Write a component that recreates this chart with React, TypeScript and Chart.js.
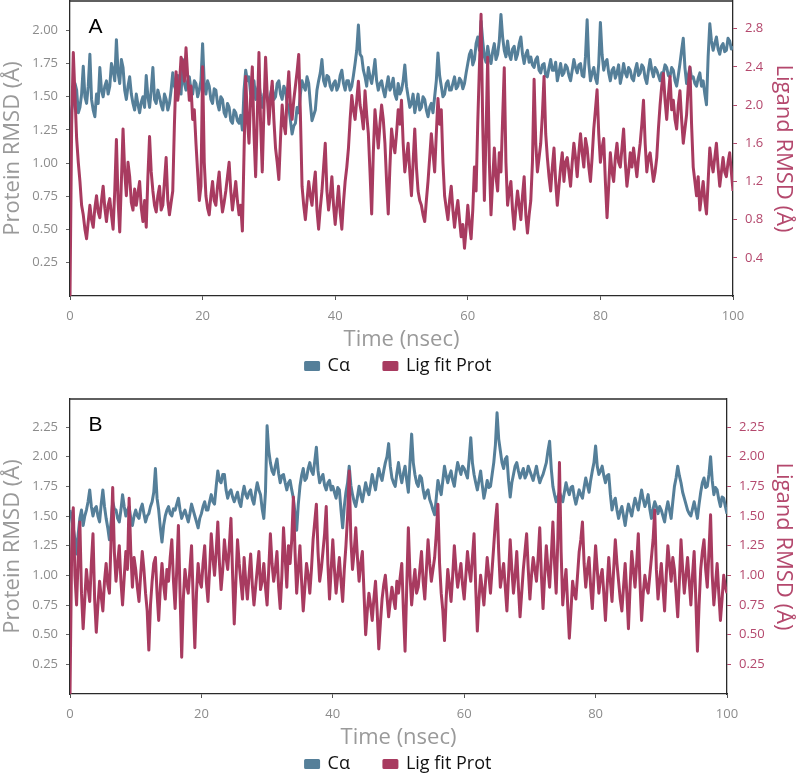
import React, { useEffect, useRef } from 'react';
import { Chart, registerables } from 'chart.js';

Chart.register(...registerables);

// ---------------- data ----------------
const TIME_STEP_NS = 0.25; // sampling interval of every series below (ns)

const X_TICKS = [0, 20, 40, 60, 80, 100];
const A_LEFT_TICKS = [0.25, 0.5, 0.75, 1.0, 1.25, 1.5, 1.75, 2.0];
const A_RIGHT_TICKS = [0.4, 0.8, 1.2, 1.6, 2.0, 2.4, 2.8];
const B_TICKS = [0.25, 0.5, 0.75, 1.0, 1.25, 1.5, 1.75, 2.0, 2.25];
const A_LEFT_MAX = 2.221;
const A_RIGHT_MAX = 3.09;
const B_MAX = 2.486;

const A_CA = [
  1.15, 1.40, 1.48, 1.60, 1.55, 1.38, 1.42, 1.52, 1.73, 1.50, 1.45, 1.58, 1.82, 1.48, 1.40, 1.35, 1.52, 1.45, 1.72, 1.55,
  1.50, 1.58, 1.62, 1.52, 1.58, 1.75, 1.70, 1.62, 1.93, 1.68, 1.60, 1.78, 1.72, 1.55, 1.48, 1.58, 1.65, 1.52, 1.45, 1.40,
  1.52, 1.44, 1.38, 1.46, 1.50, 1.42, 1.66, 1.50, 1.42, 1.55, 1.72, 1.48, 1.45, 1.55, 1.50, 1.44, 1.40, 1.52, 1.48, 1.40,
  1.45, 1.55, 1.68, 1.58, 1.55, 1.66, 1.62, 1.52, 1.78, 1.60, 1.55, 1.62, 1.65, 1.55, 1.52, 1.62, 1.60, 1.50, 1.55, 1.62,
  1.90, 1.60, 1.52, 1.62, 1.58, 1.48, 1.45, 1.56, 1.55, 1.45, 1.40, 1.50, 1.48, 1.38, 1.35, 1.45, 1.42, 1.32, 1.30, 1.40,
  1.38, 1.32, 1.30, 1.36, 1.25, 1.55, 1.70, 1.62, 1.65, 1.52, 1.55, 1.62, 1.48, 1.55, 1.60, 1.50, 1.42, 1.52, 1.55, 1.48,
  1.45, 1.52, 1.58, 1.48, 1.50, 1.60, 1.62, 1.52, 1.48, 1.58, 1.55, 1.45, 1.42, 1.32, 1.22, 1.28, 1.30, 1.42, 1.38, 1.52,
  1.62, 1.58, 1.55, 1.65, 1.60, 1.45, 1.32, 1.36, 1.40, 1.55, 1.62, 1.68, 1.78, 1.62, 1.58, 1.66, 1.65, 1.58, 1.55, 1.60,
  1.62, 1.55, 1.58, 1.66, 1.70, 1.60, 1.55, 1.62, 1.62, 1.55, 1.58, 1.66, 1.75, 1.85, 2.04, 1.82, 1.80, 1.70, 1.65, 1.58,
  1.72, 1.65, 1.60, 1.68, 1.78, 1.62, 1.55, 1.60, 1.62, 1.55, 1.50, 1.58, 1.65, 1.55, 1.58, 1.64, 1.52, 1.48, 1.60, 1.52,
  1.55, 1.62, 1.74, 1.58, 1.50, 1.42, 1.45, 1.52, 1.38, 1.45, 1.52, 1.40, 1.42, 1.50, 1.48, 1.40, 1.35, 1.42, 1.45, 1.38,
  1.50, 1.62, 1.83, 1.66, 1.58, 1.50, 1.52, 1.60, 1.62, 1.55, 1.55, 1.60, 1.65, 1.56, 1.58, 1.64, 1.62, 1.56, 1.60, 1.68,
  1.75, 1.82, 1.85, 1.74, 1.78, 1.90, 1.95, 1.85, 2.07, 1.92, 1.80, 1.76, 1.88, 1.80, 1.75, 1.84, 1.90, 1.78, 1.82, 1.92,
  2.12, 1.95, 1.85, 1.80, 1.92, 1.82, 1.78, 1.86, 1.88, 1.78, 1.82, 1.90, 1.95, 1.82, 1.75, 1.82, 1.85, 1.76, 1.80, 1.74,
  1.72, 1.78, 1.80, 1.70, 1.68, 1.74, 1.75, 1.66, 1.65, 1.72, 1.78, 1.70, 1.70, 1.76, 1.62, 1.68, 1.75, 1.66, 1.68, 1.74,
  1.72, 1.66, 1.62, 1.70, 1.78, 1.72, 1.68, 1.74, 1.75, 1.66, 1.65, 1.80, 2.08, 1.75, 1.62, 1.68, 1.72, 1.64, 1.60, 1.75,
  2.06, 1.82, 1.70, 1.76, 1.78, 1.68, 1.62, 1.70, 1.72, 1.64, 1.68, 1.74, 1.60, 1.66, 1.75, 1.68, 1.65, 1.72, 1.70, 1.64,
  1.62, 1.70, 1.75, 1.66, 1.68, 1.74, 1.72, 1.64, 1.60, 1.70, 1.78, 1.70, 1.65, 1.72, 1.70, 1.66, 1.62, 1.68, 1.68, 1.74,
  1.72, 1.66, 1.65, 1.72, 1.70, 1.62, 1.58, 1.66, 1.75, 1.85, 1.94, 1.72, 1.60, 1.66, 1.72, 1.64, 1.65, 1.60, 1.58, 1.64,
  1.68, 1.58, 1.62, 1.52, 1.44, 1.80, 2.05, 1.92, 1.85, 1.90, 1.95, 1.86, 1.82, 1.88, 1.90, 1.84, 1.85, 1.94, 1.92, 1.86,
  1.88,
];

const A_LIG = [
  0.00, 1.80, 2.55, 2.10, 1.65, 1.40, 1.20, 0.95, 0.85, 0.70, 0.60, 0.78, 0.95, 0.80, 0.72, 0.92, 1.05, 0.88, 0.82, 1.00,
  1.15, 0.92, 0.78, 0.95, 1.02, 0.85, 0.70, 1.10, 1.64, 1.00, 0.67, 1.20, 1.75, 1.30, 1.05, 1.40, 1.25, 0.98, 0.90, 1.12,
  0.95, 1.08, 1.20, 0.92, 0.78, 1.00, 0.72, 1.25, 1.67, 1.30, 1.10, 0.95, 0.88, 1.05, 1.15, 0.90, 0.95, 1.20, 1.45, 1.00,
  0.85, 0.98, 1.10, 1.80, 2.35, 2.05, 2.20, 2.50, 2.45, 2.25, 2.60, 2.30, 2.05, 2.20, 1.85, 1.95, 1.60, 1.30, 1.00, 1.15,
  2.40, 1.40, 1.05, 0.92, 0.85, 1.05, 1.20, 1.00, 0.95, 1.15, 1.30, 1.05, 0.88, 0.98, 1.10, 1.25, 1.40, 1.10, 0.90, 1.05,
  1.20, 1.00, 0.85, 0.95, 0.68, 1.50, 2.30, 1.85, 1.60, 2.10, 2.40, 1.70, 1.25, 1.90, 2.55, 1.80, 1.30, 1.95, 2.50, 2.10,
  1.80, 2.05, 2.25, 1.85, 1.55, 1.40, 1.22, 1.65, 2.00, 1.80, 1.70, 2.10, 2.35, 2.00, 1.85, 2.05, 2.20, 2.35, 2.53, 1.90,
  1.15, 0.95, 0.80, 1.00, 1.20, 1.05, 0.95, 1.15, 1.30, 0.90, 0.70, 0.92, 1.10, 1.35, 1.60, 1.10, 0.90, 1.05, 1.25, 0.95,
  0.75, 0.95, 1.15, 0.88, 0.70, 0.98, 1.20, 1.35, 1.55, 1.85, 2.10, 1.95, 1.85, 2.05, 2.25, 2.00, 1.90, 1.75, 2.15, 1.90,
  1.70, 1.30, 0.86, 1.50, 1.95, 1.75, 1.55, 1.80, 2.00, 1.85, 1.60, 1.20, 0.86, 1.35, 1.75, 1.60, 1.50, 1.70, 1.95, 1.80,
  2.05, 1.60, 1.30, 1.45, 1.60, 1.30, 1.05, 1.40, 1.75, 1.35, 1.10, 1.00, 0.95, 0.85, 0.78, 1.00, 1.20, 1.45, 1.70, 1.50,
  1.30, 1.70, 2.07, 1.80, 1.95, 1.40, 1.05, 0.92, 0.80, 1.00, 1.15, 0.90, 0.72, 0.88, 1.00, 0.80, 0.62, 0.75, 0.50, 0.70,
  0.95, 0.75, 0.60, 0.90, 1.35, 1.10, 1.81, 2.40, 2.95, 1.80, 1.00, 1.70, 2.50, 1.40, 0.85, 1.20, 1.55, 1.25, 1.10, 1.50,
  1.30, 1.85, 2.39, 1.40, 0.95, 1.10, 1.20, 0.90, 0.70, 0.92, 1.10, 0.95, 0.80, 1.05, 1.25, 0.85, 0.66, 0.85, 1.00, 1.40,
  2.27, 1.60, 1.30, 1.45, 1.60, 1.90, 2.30, 1.70, 1.45, 1.25, 1.10, 1.35, 1.55, 1.20, 0.95, 1.15, 1.35, 1.50, 1.20, 1.40,
  1.45, 1.30, 1.15, 1.40, 1.60, 1.45, 1.25, 1.50, 1.70, 1.50, 1.35, 1.65, 1.55, 1.35, 1.20, 1.45, 1.75, 1.95, 2.16, 1.70,
  1.40, 1.55, 1.65, 1.20, 0.82, 1.15, 1.50, 1.30, 1.20, 1.45, 1.60, 1.40, 1.35, 1.55, 1.75, 1.40, 1.15, 1.30, 1.50, 1.35,
  1.55, 1.40, 1.25, 1.45, 1.60, 1.80, 2.05, 1.60, 1.30, 1.45, 1.50, 1.35, 1.20, 1.30, 1.45, 1.75, 2.00, 2.20, 2.33, 2.05,
  1.85, 2.10, 2.30, 1.95, 2.05, 1.85, 1.75, 2.00, 2.15, 1.85, 1.60, 1.75, 1.90, 2.20, 2.40, 1.80, 1.35, 1.20, 1.05, 1.25,
  0.90, 1.05, 1.20, 1.00, 0.86, 1.20, 1.55, 1.40, 1.30, 1.45, 1.60, 1.35, 1.15, 1.30, 1.45, 1.30, 1.25, 1.40, 1.50, 1.30,
  1.10,
];

const B_CA = [
  1.55, 1.48, 1.40, 1.30, 1.18, 1.35, 1.48, 1.55, 1.42, 1.50, 1.55, 1.62, 1.72, 1.58, 1.50, 1.56, 1.58, 1.50, 1.45, 1.60,
  1.72, 1.58, 1.48, 1.40, 1.30, 1.45, 1.62, 1.56, 1.55, 1.48, 1.45, 1.55, 1.68, 1.58, 1.50, 1.55, 1.58, 1.48, 1.42, 1.50,
  1.55, 1.50, 1.48, 1.56, 1.60, 1.52, 1.45, 1.50, 1.52, 1.58, 1.62, 1.70, 1.90, 1.65, 1.55, 1.40, 1.28, 1.42, 1.50, 1.55,
  1.58, 1.52, 1.50, 1.56, 1.55, 1.60, 1.65, 1.55, 1.48, 1.52, 1.55, 1.50, 1.45, 1.52, 1.60, 1.55, 1.50, 1.45, 1.40, 1.48,
  1.52, 1.58, 1.62, 1.55, 1.55, 1.62, 1.68, 1.62, 1.60, 1.75, 1.88, 1.80, 1.78, 1.85, 1.85, 1.72, 1.65, 1.70, 1.72, 1.66,
  1.62, 1.66, 1.70, 1.62, 1.58, 1.68, 1.75, 1.68, 1.65, 1.70, 1.72, 1.64, 1.60, 1.70, 1.78, 1.72, 1.68, 1.56, 1.48, 1.70,
  2.26, 2.05, 1.95, 1.88, 1.85, 1.92, 1.98, 1.86, 1.78, 1.84, 1.85, 1.78, 1.72, 1.78, 1.80, 1.72, 1.65, 1.52, 1.38, 1.60,
  1.75, 1.84, 1.90, 1.80, 1.82, 1.90, 1.95, 1.88, 1.85, 1.96, 2.08, 1.88, 1.78, 1.82, 1.85, 1.76, 1.72, 1.78, 1.80, 1.72,
  1.75, 1.70, 1.65, 1.74, 1.72, 1.55, 1.40, 1.58, 1.70, 1.78, 1.92, 1.76, 1.68, 1.62, 1.58, 1.66, 1.75, 1.68, 1.62, 1.70,
  1.78, 1.72, 1.68, 1.76, 1.85, 1.78, 1.72, 1.82, 1.90, 1.84, 1.80, 1.88, 1.95, 2.00, 2.11, 1.92, 1.82, 1.78, 1.75, 1.86,
  1.95, 1.85, 1.78, 1.86, 1.92, 1.80, 1.70, 1.95, 2.19, 1.95, 1.85, 1.78, 1.75, 1.84, 1.82, 1.72, 1.65, 1.70, 1.72, 1.64,
  1.60, 1.55, 1.51, 1.65, 1.80, 1.74, 1.68, 1.80, 1.92, 1.84, 1.78, 1.84, 1.88, 1.80, 1.75, 1.86, 1.95, 1.90, 1.85, 1.92,
  1.90, 1.86, 1.82, 1.98, 2.16, 1.95, 1.85, 1.78, 1.72, 1.80, 1.88, 1.76, 1.65, 1.72, 1.80, 1.74, 1.75, 1.85, 1.95, 2.10,
  2.37, 2.15, 2.05, 1.95, 1.90, 1.98, 2.00, 1.80, 1.66, 1.78, 1.85, 1.92, 1.95, 1.88, 1.82, 1.86, 1.90, 1.82, 1.85, 1.92,
  1.88, 1.84, 1.80, 1.86, 1.92, 1.84, 1.78, 1.82, 1.85, 1.90, 1.95, 2.05, 2.13, 1.90, 1.75, 1.68, 1.62, 1.66, 1.70, 1.66,
  1.62, 1.70, 1.78, 1.72, 1.68, 1.74, 1.75, 1.66, 1.60, 1.66, 1.72, 1.68, 1.65, 1.74, 1.82, 1.76, 1.70, 1.80, 1.88, 1.95,
  2.09, 1.92, 1.85, 1.88, 1.92, 1.84, 1.78, 1.84, 1.85, 1.68, 1.55, 1.62, 1.65, 1.55, 1.48, 1.54, 1.58, 1.50, 1.42, 1.52,
  1.60, 1.55, 1.50, 1.58, 1.65, 1.60, 1.55, 1.64, 1.72, 1.64, 1.58, 1.62, 1.68, 1.56, 1.48, 1.56, 1.62, 1.58, 1.52, 1.58,
  1.55, 1.50, 1.45, 1.55, 1.62, 1.55, 1.48, 1.62, 1.75, 1.82, 1.92, 1.84, 1.78, 1.70, 1.65, 1.60, 1.55, 1.52, 1.50, 1.56,
  1.62, 1.55, 1.48, 1.60, 1.70, 1.78, 1.82, 1.74, 1.75, 1.85, 2.00, 1.80, 1.68, 1.74, 1.72, 1.64, 1.58, 1.66, 1.65, 1.58,
  1.52,
];

const B_LIG = [
  0.00, 1.20, 1.57, 1.00, 0.75, 1.15, 1.45, 0.85, 0.55, 0.80, 1.05, 0.90, 0.78, 1.10, 1.35, 0.80, 0.52, 0.75, 0.95, 0.82,
  0.70, 0.95, 1.10, 0.92, 0.85, 1.30, 1.74, 1.20, 0.95, 1.10, 1.25, 0.95, 0.75, 0.98, 1.20, 1.05, 1.65, 1.20, 0.90, 1.15,
  1.05, 0.90, 0.78, 1.00, 1.20, 1.05, 0.85, 0.70, 0.37, 0.75, 0.95, 1.10, 1.15, 0.85, 0.62, 0.90, 1.10, 0.92, 0.80, 1.05,
  0.95, 1.15, 1.30, 0.95, 0.72, 1.05, 1.42, 0.85, 0.31, 0.80, 1.05, 0.92, 0.85, 1.05, 1.25, 0.80, 0.39, 0.85, 1.10, 0.95,
  0.90, 1.10, 1.25, 0.95, 0.78, 1.05, 1.35, 1.15, 1.00, 1.20, 1.45, 1.10, 0.88, 1.05, 1.30, 1.15, 1.05, 1.25, 1.48, 1.00,
  0.59, 0.95, 1.30, 1.10, 0.95, 0.80, 1.15, 0.95, 0.80, 1.00, 1.18, 0.92, 0.75, 0.90, 1.05, 1.20, 0.88, 0.95, 1.10, 0.90,
  0.75, 1.05, 1.35, 1.10, 0.95, 1.05, 1.20, 0.90, 0.72, 1.00, 1.40, 1.15, 0.90, 1.25, 1.10, 1.30, 1.66, 1.20, 0.85, 1.05,
  1.25, 0.95, 0.70, 0.90, 1.10, 1.00, 0.85, 1.05, 1.30, 1.45, 1.60, 1.20, 0.95, 1.05, 1.20, 1.35, 1.58, 1.10, 0.80, 1.05,
  1.30, 1.05, 0.85, 1.00, 1.15, 0.95, 0.78, 1.05, 1.25, 1.50, 1.88, 1.30, 1.05, 1.20, 1.40, 1.15, 0.95, 1.10, 1.20, 0.85,
  0.50, 0.70, 0.85, 0.75, 0.62, 0.80, 0.95, 0.70, 0.38, 0.60, 0.80, 0.92, 1.00, 0.82, 0.65, 0.78, 0.90, 0.80, 0.72, 0.95,
  0.85, 0.98, 1.10, 0.70, 0.36, 0.90, 1.40, 1.00, 0.75, 0.92, 1.05, 0.85, 0.90, 1.05, 1.20, 0.95, 0.80, 1.05, 1.30, 1.10,
  0.95, 1.05, 1.15, 1.35, 1.60, 1.10, 0.85, 0.70, 0.45, 0.80, 1.05, 0.92, 0.78, 1.00, 1.25, 1.05, 0.90, 1.00, 1.10, 0.92,
  0.80, 1.00, 1.20, 1.05, 0.95, 1.15, 1.35, 0.90, 0.53, 0.80, 1.00, 0.88, 0.75, 0.95, 1.15, 1.00, 0.85, 1.05, 1.25, 1.45,
  1.60, 1.20, 0.90, 1.00, 1.10, 0.90, 0.70, 1.00, 1.30, 1.05, 0.85, 1.00, 1.20, 0.90, 0.65, 0.85, 1.05, 1.20, 1.35, 1.05,
  0.80, 1.00, 1.15, 1.05, 0.95, 1.15, 1.40, 1.00, 0.72, 1.00, 1.25, 1.05, 0.90, 1.15, 1.45, 1.10, 0.85, 1.30, 1.95, 1.20,
  0.75, 0.92, 1.05, 0.75, 0.47, 0.70, 0.95, 0.85, 0.80, 1.00, 1.20, 1.30, 1.45, 1.10, 0.90, 1.05, 1.15, 0.90, 0.72, 1.00,
  1.25, 1.05, 0.85, 0.98, 1.05, 0.85, 0.62, 0.90, 1.15, 0.95, 0.78, 1.05, 1.30, 1.10, 0.95, 0.80, 0.70, 0.90, 1.10, 0.85,
  0.55, 0.90, 1.20, 1.05, 0.90, 1.10, 1.35, 0.95, 0.62, 0.85, 1.00, 0.90, 0.85, 1.00, 1.15, 1.30, 1.55, 1.05, 0.80, 0.95,
  1.10, 0.90, 0.70, 1.00, 1.25, 1.10, 0.95, 1.15, 1.05, 0.85, 0.65, 0.95, 1.30, 1.05, 0.85, 1.00, 1.15, 0.95, 0.75, 1.00,
  1.20, 0.80, 0.36, 0.75, 1.05, 1.20, 1.30, 1.05, 0.90, 1.20, 1.51, 1.00, 0.75, 0.92, 1.10, 0.85, 0.62, 0.80, 1.00, 0.90,
  0.85,
];

// ---------------- styles ----------------
const BLUE = '#557f99';
const RED = '#a83b60';
const GRAY_TICK = '#8c8c8c';
const GRAY_TITLE = '#9a9a9a';
const RED_TICK = '#b4486d';
const AXIS_COLOR = '#2a2a2a';
const FONT = "'Open Sans', 'Noto Sans', sans-serif";
const LINE_WIDTH = 3;

const W = 797;
const H = 398;

const panelDecor = {
  id: 'panelDecor',
  afterDraw(chart: any, _args: any, opts: any) {
    const { ctx, chartArea } = chart;
    ctx.save();
    ctx.strokeStyle = AXIS_COLOR;
    ctx.lineWidth = 1.3;
    ctx.beginPath();
    ctx.moveTo(chartArea.left, chartArea.top);
    ctx.lineTo(chartArea.right, chartArea.top);
    ctx.stroke();
    ctx.fillStyle = '#000';
    ctx.font = "21px 'Liberation Sans', Arial, sans-serif";
    ctx.textAlign = 'center';
    ctx.textBaseline = 'middle';
    ctx.fillText(opts.label, chartArea.left + 25.5, chartArea.top + 26.5);
    ctx.restore();
  },
};

const toPoints = (arr: number[]) => arr.map((v, i) => ({ x: i * TIME_STEP_NS, y: v }));

type PanelProps = {
  top: number;
  label: string;
  ca: number[];
  lig: number[];
  leftTicks: number[];
  rightTicks: number[];
  leftMax: number;
  rightMax: number;
  leftDigits: number;
  rightDigits: number;
  rightWidth: number;
};

function Panel(p: PanelProps) {
  const ref = useRef<HTMLCanvasElement | null>(null);
  useEffect(() => {
    if (!ref.current) return;
    const chart = new Chart(ref.current, {
      type: 'line',
      data: {
        datasets: [
          {
            label: 'Cα',
            data: toPoints(p.ca),
            borderColor: BLUE,
            backgroundColor: BLUE,
            borderWidth: LINE_WIDTH,
            borderJoinStyle: 'round',
            pointRadius: 0,
            tension: 0,
            yAxisID: 'y',
            order: 1,
          },
          {
            label: 'Lig fit Prot',
            data: toPoints(p.lig),
            borderColor: RED,
            backgroundColor: RED,
            borderWidth: LINE_WIDTH,
            borderJoinStyle: 'round',
            pointRadius: 0,
            tension: 0,
            yAxisID: 'y2',
            order: 0,
          },
        ],
      },
      options: {
        animation: false,
        responsive: false,
        maintainAspectRatio: false,
        devicePixelRatio: 1,
        layout: { padding: { top: 1, bottom: 13, left: 0, right: 0 } },
        font: { family: FONT },
        plugins: {
          legend: {
            position: 'bottom',
            labels: {
              boxWidth: 13,
              boxHeight: 7,
              padding: 34,
              color: '#111',
              font: { size: 18, family: FONT },
              sort: (a: any, b: any) => a.datasetIndex - b.datasetIndex,
            },
          },
          tooltip: { enabled: false },
          panelDecor: { label: p.label },
        } as any,
        scales: {
          x: {
            type: 'linear',
            position: 'bottom',
            min: 0,
            max: 100,
            afterBuildTicks: (s: any) => {
              s.ticks = X_TICKS.map((v) => ({ value: v }));
            },
            afterFit: (s: any) => {
              s.height = 27;
              s.paddingLeft = 0;
              s.paddingRight = 0;
            },
            ticks: {
              color: GRAY_TICK,
              font: { size: 13, family: FONT },
              padding: 8,
              maxRotation: 0,
              autoSkip: false,
              callback: (v: any) => String(v),
            },
            grid: { drawOnChartArea: false, drawTicks: true, tickLength: 4, tickColor: '#555' },
            border: { display: true, color: AXIS_COLOR, width: 1.3 },
            title: {
              display: true,
              text: 'Time (nsec)',
              color: GRAY_TITLE,
              font: { size: 22, family: FONT },
              padding: { top: 0, bottom: -30 },
            },
          },
          y: {
            type: 'linear',
            position: 'left',
            min: 0,
            max: p.leftMax,
            afterBuildTicks: (s: any) => {
              s.ticks = p.leftTicks.map((v) => ({ value: v }));
            },
            afterFit: (s: any) => {
              s.width = 70;
              s.paddingTop = 0;
              s.paddingBottom = 0;
            },
            ticks: {
              color: GRAY_TICK,
              font: { size: 13, family: FONT },
              padding: 8,
              callback: (v: any) => Number(v).toFixed(p.leftDigits),
            },
            grid: { drawOnChartArea: false, drawTicks: true, tickLength: 4, tickColor: '#666' },
            border: { display: true, color: AXIS_COLOR, width: 1.3 },
            title: {
              display: true,
              text: 'Protein RMSD (Å)',
              color: GRAY_TITLE,
              font: { size: 22, family: FONT },
              padding: { top: 0, bottom: 0 },
            },
          },
          y2: {
            type: 'linear',
            position: 'right',
            min: 0,
            max: p.rightMax,
            afterBuildTicks: (s: any) => {
              s.ticks = p.rightTicks.map((v) => ({ value: v }));
            },
            afterFit: (s: any) => {
              s.width = p.rightWidth;
              s.paddingTop = 0;
              s.paddingBottom = 0;
            },
            ticks: {
              color: RED_TICK,
              font: { size: 13, family: FONT },
              padding: 8,
              callback: (v: any) => Number(v).toFixed(p.rightDigits),
            },
            grid: { drawOnChartArea: false, drawTicks: true, tickLength: 4, tickColor: RED_TICK },
            border: { display: true, color: AXIS_COLOR, width: 1.3 },
            title: {
              display: true,
              text: 'Ligand RMSD (Å)',
              color: RED_TICK,
              font: { size: 22, family: FONT },
              padding: { top: 1, bottom: 0 },
            },
          },
        },
      } as any,
      plugins: [panelDecor],
    });
    return () => chart.destroy();
  }, []);
  return (
    <canvas
      ref={ref}
      width={W}
      height={H}
      style={{ position: 'absolute', left: 0, top: p.top, width: W, height: H, display: 'block' }}
    />
  );
}

export default function App() {
  return (
    <div
      style={{
        position: 'absolute',
        left: 0,
        top: 0,
        width: W,
        height: 776,
        overflow: 'hidden',
        background: '#fff',
      }}
    >
      <Panel
        top={0}
        label="A"
        ca={A_CA}
        lig={A_LIG}
        leftTicks={A_LEFT_TICKS}
        rightTicks={A_RIGHT_TICKS}
        leftMax={A_LEFT_MAX}
        rightMax={A_RIGHT_MAX}
        leftDigits={2}
        rightDigits={1}
        rightWidth={64}
      />
      <Panel
        top={398}
        label="B"
        ca={B_CA}
        lig={B_LIG}
        leftTicks={B_TICKS}
        rightTicks={B_TICKS}
        leftMax={B_MAX}
        rightMax={B_MAX}
        leftDigits={2}
        rightDigits={2}
        rightWidth={70}
      />
    </div>
  );
}
